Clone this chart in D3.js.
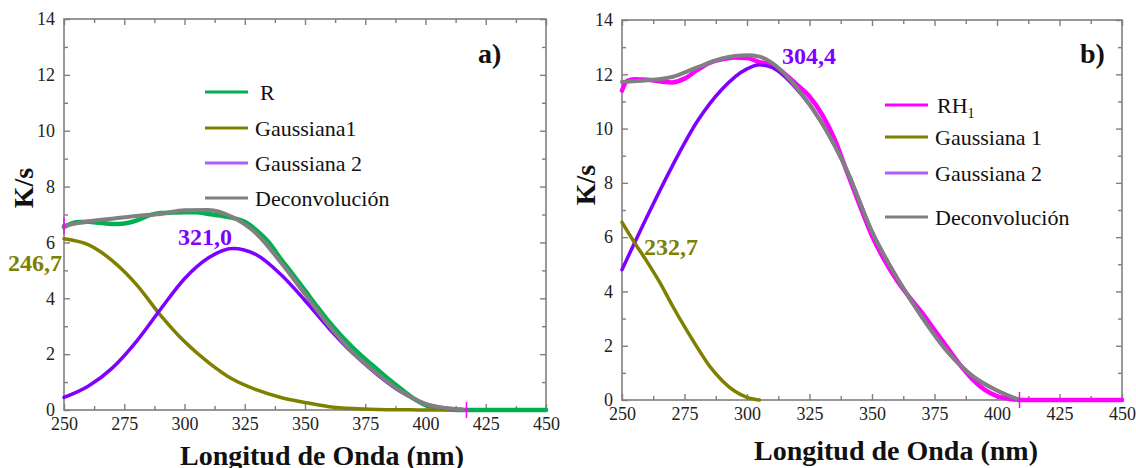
<!DOCTYPE html>
<html>
<head>
<meta charset="utf-8">
<script src="https://cdn.jsdelivr.net/npm/d3@7"></script>
<style>
  body { margin: 0; background: #fff; }
  svg { display: block; }
</style>
</head>
<body>
<div id="chart"></div>
<script>
// ---------- ticks ----------
const xTicks = [250, 275, 300, 325, 350, 375, 400, 425, 450];
const xMinor = [262.5, 287.5, 312.5, 337.5, 362.5, 387.5, 412.5, 437.5];
const yTicks = [0, 2, 4, 6, 8, 10, 12, 14];
const yMinor = [1, 3, 5, 7, 9, 11, 13];

// ---------- panel a) ----------
const aWave   = [250, 260, 270, 280, 290, 300, 310, 320, 330, 340, 350, 360, 370, 380, 390, 400, 410, 417];
const aGauss1 = [6.13, 5.92, 5.35, 4.50, 3.40, 2.45, 1.70, 1.10, 0.72, 0.45, 0.27, 0.12, 0.05, 0.02, 0.01, 0.0, 0.0, 0.0];
const aGauss2 = [0.45, 0.85, 1.50, 2.45, 3.60, 4.70, 5.45, 5.78, 5.55, 4.85, 3.92, 2.92, 2.02, 1.27, 0.64, 0.22, 0.05, 0.0];
const aDeconv = [6.60, 6.75, 6.85, 6.95, 7.02, 7.15, 7.16, 6.90, 6.30, 5.28, 4.15, 3.02, 2.05, 1.30, 0.66, 0.22, 0.05, 0.0];

const aRWave = [250, 255, 260, 265, 270, 275, 280, 285, 290, 295, 300, 305, 310, 315, 320, 325, 330, 335, 340, 345,
                350, 355, 360, 365, 370, 375, 380, 385, 390, 395, 400, 405, 410, 415, 420, 430, 440, 450];
const aR     = [6.55, 6.72, 6.74, 6.70, 6.66, 6.68, 6.78, 6.96, 7.05, 7.07, 7.08, 7.08, 7.02, 6.96, 6.88, 6.74, 6.42, 6.00, 5.40, 4.85,
                4.28, 3.70, 3.15, 2.66, 2.22, 1.82, 1.45, 1.08, 0.74, 0.42, 0.18, 0.06, 0.02, 0.0, 0.0, 0.0, 0.0, 0.0];
const aMarkers = [[250, 6.6], [417, 0]];

// ---------- panel b) ----------
const bG1Wave = [250, 255, 260, 265, 270, 275, 280, 285, 290, 295, 300, 305];
const bGauss1 = [6.55, 5.80, 5.10, 4.35, 3.50, 2.70, 1.95, 1.25, 0.72, 0.33, 0.10, 0.0];
const bWave   = [250, 260, 270, 280, 290, 300, 305, 310, 320, 330, 340, 350, 360, 370, 380, 390, 400, 409];
const bGauss2 = [4.80, 6.75, 8.60, 10.25, 11.45, 12.20, 12.35, 12.25, 11.45, 10.20, 8.45, 6.20, 4.50, 3.05, 1.80, 0.90, 0.35, 0.0];
const bDeconv = [11.72, 11.78, 11.90, 12.25, 12.58, 12.70, 12.65, 12.42, 11.50, 10.20, 8.45, 6.20, 4.50, 3.05, 1.80, 0.90, 0.35, 0.0];

const bRWave = [250, 252, 255, 260, 265, 270, 275, 280, 285, 290, 295, 300, 305, 310, 315, 320, 325, 330, 335, 340, 345,
                350, 355, 360, 365, 370, 375, 380, 385, 390, 395, 400, 405, 410, 420, 430, 440, 450];
const bRH    = [11.40, 11.75, 11.82, 11.80, 11.74, 11.70, 11.84, 12.15, 12.42, 12.55, 12.62, 12.60, 12.45, 12.36, 12.02, 11.62, 11.18, 10.52, 9.62, 8.40, 7.20,
                6.05, 5.15, 4.40, 3.78, 3.22, 2.58, 1.95, 1.32, 0.78, 0.38, 0.14, 0.04, 0.0, 0.0, 0.0, 0.0, 0.0];
const bMarkers = [[409, 0]];

// ---------- colours ----------
const cGreen = "#00b050", cOlive = "#808000", cPurple = "#7f00ff", cPurpleLeg = "#ad5cff",
      cGrey = "#808080", cMagenta = "#ff00ff";

const svg = d3.select("#chart")
    .append("svg")
    .attr("width", 1136)
    .attr("height", 468);

const zip = (xs, ys) => xs.map((v, i) => [v, ys[i]]);

function drawPanel(p) {
    const x = d3.scaleLinear().domain([250, 450]).range([p.left, p.right]);
    const y = d3.scaleLinear().domain([0, 14]).range([p.bottom, p.top]);
    const g = svg.append("g");

    // frame
    g.append("rect")
        .attr("x", p.left).attr("y", p.top)
        .attr("width", p.right - p.left).attr("height", p.bottom - p.top)
        .attr("fill", "none").attr("stroke", "#7f7f7f").attr("stroke-width", 1.6);

    function styleAxis(sel) {
        sel.select(".domain").remove();
        sel.selectAll("line").attr("stroke", "#7f7f7f").attr("stroke-width", 1.4);
        sel.selectAll("text")
            .attr("font-family", "'Liberation Serif', 'Times New Roman', serif")
            .attr("font-size", 18).attr("fill", "#222");
    }

    // bottom
    g.append("g").attr("transform", `translate(0,${p.bottom})`)
        .call(d3.axisBottom(x).tickValues(xTicks).tickSize(-6).tickSizeOuter(0).tickPadding(7).tickFormat(d3.format("d")))
        .call(styleAxis);
    g.append("g").attr("transform", `translate(0,${p.bottom})`)
        .call(d3.axisBottom(x).tickValues(xMinor).tickSize(-4).tickSizeOuter(0).tickFormat(""))
        .call(styleAxis);
    // top
    g.append("g").attr("transform", `translate(0,${p.top})`)
        .call(d3.axisTop(x).tickValues(xTicks).tickSize(-6).tickSizeOuter(0).tickFormat(""))
        .call(styleAxis);
    g.append("g").attr("transform", `translate(0,${p.top})`)
        .call(d3.axisTop(x).tickValues(xMinor).tickSize(-4).tickSizeOuter(0).tickFormat(""))
        .call(styleAxis);
    // left
    g.append("g").attr("transform", `translate(${p.left},0)`)
        .call(d3.axisLeft(y).tickValues(yTicks).tickSize(-6).tickSizeOuter(0).tickPadding(9))
        .call(styleAxis);
    g.append("g").attr("transform", `translate(${p.left},0)`)
        .call(d3.axisLeft(y).tickValues(yMinor).tickSize(-4).tickSizeOuter(0).tickFormat(""))
        .call(styleAxis);
    // right
    g.append("g").attr("transform", `translate(${p.right},0)`)
        .call(d3.axisRight(y).tickValues(yTicks).tickSize(-6).tickSizeOuter(0).tickFormat(""))
        .call(styleAxis);
    g.append("g").attr("transform", `translate(${p.right},0)`)
        .call(d3.axisRight(y).tickValues(yMinor).tickSize(-4).tickSizeOuter(0).tickFormat(""))
        .call(styleAxis);

    // curves
    const line = d3.line()
        .x(d => x(d[0]))
        .y(d => y(d[1]))
        .curve(d3.curveMonotoneX);

    p.series.forEach(s => {
        g.append("path")
            .datum(zip(s.wave, s.values))
            .attr("d", line)
            .attr("fill", "none")
            .attr("stroke", s.color)
            .attr("stroke-width", s.width)
            .attr("stroke-linejoin", "round")
            .attr("stroke-linecap", "round");
    });

    // cursor markers
    p.markers.forEach(m => {
        const mx = x(m[0]), my = y(m[1]);
        g.append("line").attr("x1", mx).attr("x2", mx).attr("y1", my - 8).attr("y2", my + 8)
            .attr("stroke", cMagenta).attr("stroke-width", 1.5);
        g.append("line").attr("x1", mx - 2).attr("x2", mx + 2).attr("y1", my).attr("y2", my)
            .attr("stroke", cMagenta).attr("stroke-width", 1.5);
    });

    // legend
    p.legend.forEach(l => {
        g.append("line")
            .attr("x1", p.legX).attr("x2", p.legX + 43)
            .attr("y1", l.y).attr("y2", l.y)
            .attr("stroke", l.color).attr("stroke-width", 3.2);
        const t = g.append("text")
            .attr("x", p.legX + 50 + (l.dx || 0)).attr("y", l.y)
            .attr("dy", "0.35em")
            .attr("font-family", "'Liberation Serif', 'Times New Roman', serif")
            .attr("font-size", 22).attr("fill", "#111");
        t.append("tspan").text(l.label);
        if (l.sub) {
            t.append("tspan").attr("font-size", 14).attr("dy", "0.35em").text(l.sub);
        }
    });

    // peak labels
    p.peaks.forEach(k => {
        g.append("text")
            .attr("x", k.x).attr("y", k.y)
            .attr("font-family", "'Liberation Serif', 'Times New Roman', serif")
            .attr("font-weight", "bold").attr("font-size", 24)
            .attr("fill", k.color)
            .text(k.text);
    });

    // panel tag
    g.append("text")
        .attr("x", p.tagX).attr("y", p.tagY)
        .attr("font-family", "'Liberation Serif', 'Times New Roman', serif")
        .attr("font-weight", "bold").attr("font-size", 28).attr("fill", "#111")
        .text(p.tag);

    // axis titles
    g.append("text")
        .attr("x", p.xTitleX).attr("y", p.xTitleY)
        .attr("text-anchor", "middle")
        .attr("font-family", "'Liberation Serif', 'Times New Roman', serif")
        .attr("font-weight", "bold").attr("font-size", 28).attr("fill", "#111")
        .text("Longitud de Onda (nm)");
    g.append("text")
        .attr("transform", `translate(${p.yTitleX},${p.yTitleY}) rotate(-90)`)
        .attr("text-anchor", "middle")
        .attr("font-family", "'Liberation Serif', 'Times New Roman', serif")
        .attr("font-weight", "bold").attr("font-size", 28).attr("fill", "#111")
        .text("K/s");
}

drawPanel({
    left: 64, right: 546, top: 19, bottom: 410,
    series: [
        { wave: aRWave, values: aR, color: cGreen, width: 4.5 },
        { wave: aWave, values: aGauss1, color: cOlive, width: 3.5 },
        { wave: aWave, values: aGauss2, color: cPurple, width: 3.5 },
        { wave: aWave, values: aDeconv, color: cGrey, width: 4 }
    ],
    markers: aMarkers,
    legX: 205,
    legend: [
        { label: "R", color: cGreen, y: 92, dx: 5 },
        { label: "Gaussiana1", color: cOlive, y: 128 },
        { label: "Gaussiana 2", color: cPurpleLeg, y: 163 },
        { label: "Deconvolución", color: cGrey, y: 198 }
    ],
    peaks: [
        { text: "246,7", x: 8, y: 271, color: cOlive },
        { text: "321,0", x: 178, y: 245, color: cPurple }
    ],
    tag: "a)", tagX: 478, tagY: 63,
    xTitleX: 322, xTitleY: 465,
    yTitleX: 33, yTitleY: 188
});

drawPanel({
    left: 622, right: 1122, top: 20, bottom: 400,
    series: [
        { wave: bRWave, values: bRH, color: cMagenta, width: 4.5 },
        { wave: bWave, values: bGauss2, color: cPurple, width: 3.5 },
        { wave: bG1Wave, values: bGauss1, color: cOlive, width: 3.5 },
        { wave: bWave, values: bDeconv, color: cGrey, width: 4 }
    ],
    markers: bMarkers,
    legX: 885,
    legend: [
        { label: "RH", sub: "1", color: cMagenta, y: 105, dx: 2 },
        { label: "Gaussiana 1", color: cOlive, y: 137 },
        { label: "Gaussiana 2", color: cPurpleLeg, y: 173 },
        { label: "Deconvolución", color: cGrey, y: 217 }
    ],
    peaks: [
        { text: "304,4", x: 782, y: 64, color: cPurple },
        { text: "232,7", x: 644, y: 255, color: cOlive }
    ],
    tag: "b)", tagX: 1080, tagY: 63,
    xTitleX: 896, xTitleY: 460,
    yTitleX: 595, yTitleY: 185
});
</script>
</body>
</html>
